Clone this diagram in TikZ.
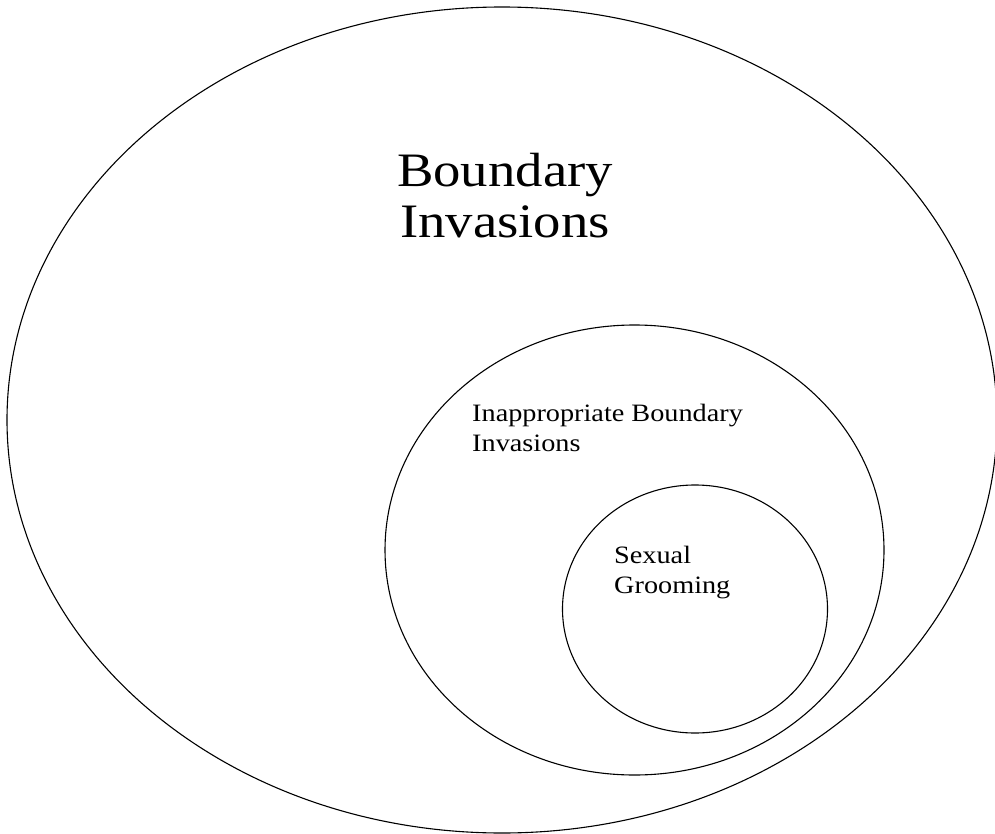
\documentclass[tikz,border=0pt]{standalone}
\usepackage{fontspec}
\setmainfont{Liberation Serif}

\tikzset{
  ring/.style={draw=black, line width=1.1pt},
  bigtext/.style={align=center, font=\fontsize{48}{51}\selectfont, xscale=1.14, transform shape, inner sep=0pt},
  smalltext/.style={align=left, anchor=north west, font=\fontsize{25}{30}\selectfont, xscale=1.13, transform shape, inner sep=0pt}
}

\begin{document}
\begin{tikzpicture}[x=1pt, y=-1pt]

\useasboundingbox (0,0) rectangle (995,834);

% the three nested sets
\draw[ring] (502,420) ellipse (495 and 413);
\draw[ring] (634.5,550) ellipse (249.5 and 225);
\draw[ring] (695,609) ellipse (132.5 and 124);

% labels
\node[bigtext] (boundary) at (505,196) {Boundary\\Invasions};
\node[smalltext] (inappropriate) at (472,404) {Inappropriate Boundary\\Invasions};
\node[smalltext] (grooming) at (614,546) {Sexual\\Grooming};

\end{tikzpicture}
\end{document}
